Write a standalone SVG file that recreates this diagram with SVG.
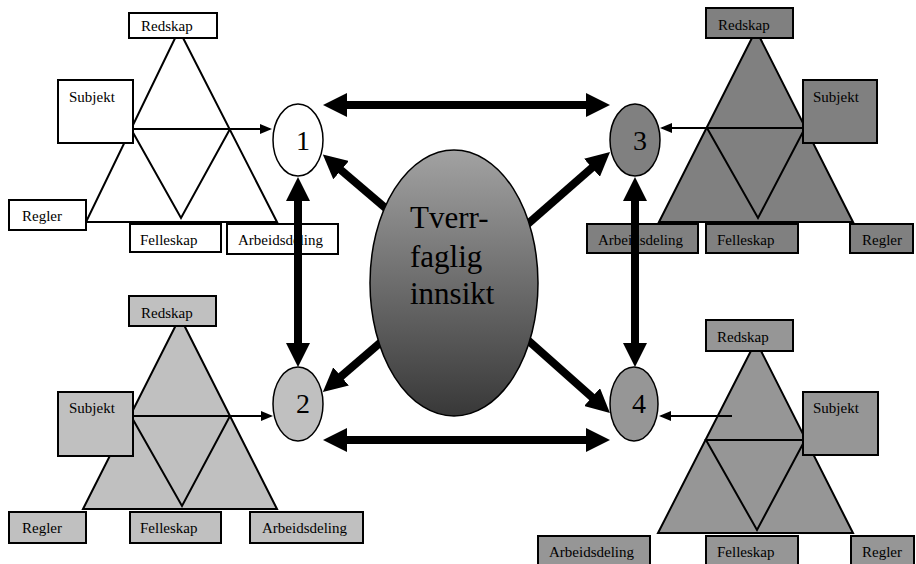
<svg xmlns="http://www.w3.org/2000/svg" width="916" height="564" viewBox="0 0 916 564" font-family="'Liberation Serif', 'Times New Roman', serif">
<style>
text{font-family:'Liberation Serif','Times New Roman',serif;fill:#000}
.lbl{font-size:15px}
.num{font-size:28px;text-anchor:middle}
.big{font-size:31px}
.box{stroke:#000;stroke-width:2}
.tri{stroke:#000;stroke-width:2;stroke-linejoin:miter}
.thick{stroke:#000;stroke-width:8;fill:none}
.thin{stroke:#000;stroke-width:2;fill:none}
.ell{stroke:#000;stroke-width:1.5}
.w{fill:#fff}.g1{fill:#c0c0c0}.g2{fill:#808080}.g3{fill:#969696}
</style>
<defs>
<marker id="big" viewBox="0 0 3 3" refX="1" refY="1.5" markerWidth="3" markerHeight="3" orient="auto-start-reverse"><path d="M0,0 L3,1.5 L0,3 z" fill="#000"/></marker>
<marker id="sm" viewBox="0 0 6 5" refX="5" refY="2.5" markerWidth="6" markerHeight="5" orient="auto"><path d="M0,0 L6,2.5 L0,5 z" fill="#000"/></marker>
<linearGradient id="cg" x1="0" y1="0" x2="0" y2="1"><stop offset="0" stop-color="#a2a2a2"/><stop offset="1" stop-color="#383838"/></linearGradient>
</defs>

<g id="system1">
<polygon class="tri w" points="179,30 277,222 86,222"/>
<polygon class="tri w" points="131,129 230,129 181,218"/>
<rect class="box w" x="129" y="13" width="88" height="25"/><text class="lbl" x="141" y="31">Redskap</text>
<rect class="box w" x="58" y="80" width="75" height="63"/><text class="lbl" x="69" y="102">Subjekt</text>
<rect class="box w" x="9" y="200" width="77" height="30"/><text class="lbl" x="22" y="221">Regler</text>
<rect class="box w" x="130" y="224" width="91" height="28"/><text class="lbl" x="140" y="245">Felleskap</text>
<rect class="box w" x="227" y="224" width="111" height="30"/><text class="lbl" x="238" y="245">Arbeidsdeling</text>
</g>

<g id="system3">
<polygon class="tri g2" points="756,30 853,222 659,222"/>
<polygon class="tri g2" points="707,128 805,128 758,218"/>
<rect class="box g2" x="706" y="8" width="87" height="30"/><text class="lbl" x="718" y="30">Redskap</text>
<rect class="box g2" x="803" y="80" width="74" height="63"/><text class="lbl" x="813" y="102">Subjekt</text>
<rect class="box g2" x="587" y="224" width="111" height="29"/><text class="lbl" x="598" y="245">Arbeidsdeling</text>
<rect class="box g2" x="706" y="224" width="92" height="29"/><text class="lbl" x="717" y="245">Felleskap</text>
<rect class="box g2" x="850" y="224" width="63" height="29"/><text class="lbl" x="862" y="245">Regler</text>
</g>

<g id="system2">
<polygon class="tri g1" points="180,317 277,509 83,509"/>
<polygon class="tri g1" points="131,416 230,416 182,506"/>
<rect class="box g1" x="129" y="296" width="87" height="30"/><text class="lbl" x="141" y="318">Redskap</text>
<rect class="box g1" x="58" y="392" width="75" height="64"/><text class="lbl" x="69" y="413">Subjekt</text>
<rect class="box g1" x="9" y="512" width="77" height="31"/><text class="lbl" x="22" y="533">Regler</text>
<rect class="box g1" x="130" y="512" width="91" height="31"/><text class="lbl" x="140" y="533">Felleskap</text>
<rect class="box g1" x="250" y="512" width="113" height="31"/><text class="lbl" x="262" y="533">Arbeidsdeling</text>
</g>

<g id="system4">
<polygon class="tri g3" points="756,341 853,533 658,533"/>
<polygon class="tri g3" points="706,440 805,440 757,530"/>
<rect class="box g3" x="706" y="320" width="87" height="31"/><text class="lbl" x="717" y="342">Redskap</text>
<rect class="box g3" x="803" y="392" width="75" height="63"/><text class="lbl" x="813" y="413">Subjekt</text>
<rect class="box g3" x="538" y="536" width="112" height="32"/><text class="lbl" x="549" y="557">Arbeidsdeling</text>
<rect class="box g3" x="706" y="536" width="92" height="32"/><text class="lbl" x="717" y="557">Felleskap</text>
<rect class="box g3" x="851" y="536" width="63" height="32"/><text class="lbl" x="862" y="557">Regler</text>
</g>

<g id="connectors">
<line class="thin" x1="133" y1="129" x2="270" y2="129" marker-end="url(#sm)"/>
<line class="thin" x1="133" y1="416" x2="271" y2="416" marker-end="url(#sm)"/>
<line class="thin" x1="803" y1="128" x2="662" y2="128" marker-end="url(#sm)"/>
<line class="thin" x1="732" y1="416" x2="661" y2="416" marker-end="url(#sm)"/>
<line class="thick" x1="339" y1="105" x2="594" y2="105" marker-start="url(#big)" marker-end="url(#big)"/>
<line class="thick" x1="339" y1="440" x2="594" y2="440" marker-start="url(#big)" marker-end="url(#big)"/>
<line class="thick" x1="298" y1="193" x2="298" y2="351" marker-start="url(#big)" marker-end="url(#big)"/>
<line class="thick" x1="635" y1="193" x2="635" y2="351" marker-start="url(#big)" marker-end="url(#big)"/>
<line class="thick" x1="396" y1="217" x2="335" y2="165" marker-end="url(#big)"/>
<line class="thick" x1="522" y1="229" x2="598" y2="162.5" marker-end="url(#big)"/>
<line class="thick" x1="388" y1="336" x2="335" y2="381.6" marker-end="url(#big)"/>
<line class="thick" x1="522" y1="335" x2="598" y2="402.4" marker-end="url(#big)"/>
</g>

<g id="node1"><ellipse class="ell w" cx="298" cy="140" rx="25" ry="36"/><text class="num" x="303" y="150">1</text></g>
<g id="node2"><ellipse class="ell g1" cx="298" cy="404" rx="25" ry="37"/><text class="num" x="303" y="413">2</text></g>
<g id="node3"><ellipse class="ell g2" cx="635" cy="140" rx="25" ry="36"/><text class="num" x="640" y="150">3</text></g>
<g id="node4"><ellipse class="ell g3" cx="634" cy="404" rx="24" ry="37"/><text class="num" x="639" y="413">4</text></g>

<g id="center">
<ellipse cx="454" cy="283" rx="84" ry="133" fill="url(#cg)" stroke="#000" stroke-width="1.5"/>
<text class="big" x="410" y="228">Tverr-</text>
<text class="big" x="410" y="267">faglig</text>
<text class="big" x="410" y="304">innsikt</text>
</g>
</svg>
